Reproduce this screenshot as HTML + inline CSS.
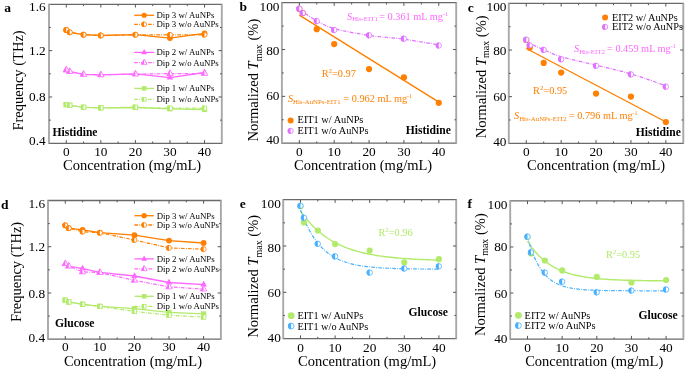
<!DOCTYPE html>
<html><head><meta charset="utf-8"><style>html,body{margin:0;padding:0;background:#fff;}svg{display:block;filter:blur(0.3px);}</style></head>
<body>
<svg width="685" height="370" viewBox="0 0 685 370" font-family='"Liberation Serif", serif'>
<rect width="685" height="370" fill="#fff"/>
<line x1="48.40" y1="4.30" x2="222.40" y2="4.30" stroke="#6a6a6a" stroke-width="1.3"/>
<line x1="48.40" y1="143.30" x2="222.40" y2="143.30" stroke="#6a6a6a" stroke-width="1.3"/>
<line x1="49.00" y1="4.30" x2="49.00" y2="143.30" stroke="#a8a8a8" stroke-width="1.9"/>
<line x1="221.80" y1="4.30" x2="221.80" y2="143.30" stroke="#a8a8a8" stroke-width="1.9"/>
<line x1="66.28" y1="143.30" x2="66.28" y2="140.10" stroke="#555" stroke-width="1"/>
<line x1="66.28" y1="4.30" x2="66.28" y2="7.50" stroke="#555" stroke-width="1"/>
<line x1="83.56" y1="143.30" x2="83.56" y2="141.50" stroke="#555" stroke-width="1"/>
<line x1="83.56" y1="4.30" x2="83.56" y2="6.10" stroke="#555" stroke-width="1"/>
<line x1="100.84" y1="143.30" x2="100.84" y2="140.10" stroke="#555" stroke-width="1"/>
<line x1="100.84" y1="4.30" x2="100.84" y2="7.50" stroke="#555" stroke-width="1"/>
<line x1="118.12" y1="143.30" x2="118.12" y2="141.50" stroke="#555" stroke-width="1"/>
<line x1="118.12" y1="4.30" x2="118.12" y2="6.10" stroke="#555" stroke-width="1"/>
<line x1="135.40" y1="143.30" x2="135.40" y2="140.10" stroke="#555" stroke-width="1"/>
<line x1="135.40" y1="4.30" x2="135.40" y2="7.50" stroke="#555" stroke-width="1"/>
<line x1="152.68" y1="143.30" x2="152.68" y2="141.50" stroke="#555" stroke-width="1"/>
<line x1="152.68" y1="4.30" x2="152.68" y2="6.10" stroke="#555" stroke-width="1"/>
<line x1="169.96" y1="143.30" x2="169.96" y2="140.10" stroke="#555" stroke-width="1"/>
<line x1="169.96" y1="4.30" x2="169.96" y2="7.50" stroke="#555" stroke-width="1"/>
<line x1="187.24" y1="143.30" x2="187.24" y2="141.50" stroke="#555" stroke-width="1"/>
<line x1="187.24" y1="4.30" x2="187.24" y2="6.10" stroke="#555" stroke-width="1"/>
<line x1="204.52" y1="143.30" x2="204.52" y2="140.10" stroke="#555" stroke-width="1"/>
<line x1="204.52" y1="4.30" x2="204.52" y2="7.50" stroke="#555" stroke-width="1"/>
<line x1="49.00" y1="120.13" x2="50.80" y2="120.13" stroke="#555" stroke-width="1"/>
<line x1="221.80" y1="120.13" x2="220.00" y2="120.13" stroke="#555" stroke-width="1"/>
<line x1="49.00" y1="96.97" x2="52.20" y2="96.97" stroke="#555" stroke-width="1"/>
<line x1="221.80" y1="96.97" x2="218.60" y2="96.97" stroke="#555" stroke-width="1"/>
<line x1="49.00" y1="73.80" x2="50.80" y2="73.80" stroke="#555" stroke-width="1"/>
<line x1="221.80" y1="73.80" x2="220.00" y2="73.80" stroke="#555" stroke-width="1"/>
<line x1="49.00" y1="50.63" x2="52.20" y2="50.63" stroke="#555" stroke-width="1"/>
<line x1="221.80" y1="50.63" x2="218.60" y2="50.63" stroke="#555" stroke-width="1"/>
<line x1="49.00" y1="27.47" x2="50.80" y2="27.47" stroke="#555" stroke-width="1"/>
<line x1="221.80" y1="27.47" x2="220.00" y2="27.47" stroke="#555" stroke-width="1"/>
<text x="45.70" y="10.60" text-anchor="end" font-size="13.3">1.6</text>
<text x="45.70" y="55.15" text-anchor="end" font-size="13.3">1.2</text>
<text x="45.70" y="101.30" text-anchor="end" font-size="13.3">0.8</text>
<text x="45.70" y="145.10" text-anchor="end" font-size="13.3">0.4</text>
<text x="66.28" y="155.70" text-anchor="middle" font-size="13.3">0</text>
<text x="100.84" y="155.70" text-anchor="middle" font-size="13.3">10</text>
<text x="135.40" y="155.70" text-anchor="middle" font-size="13.3">20</text>
<text x="169.96" y="155.70" text-anchor="middle" font-size="13.3">30</text>
<text x="204.52" y="155.70" text-anchor="middle" font-size="13.3">40</text>
<text x="4.30" y="12.20" font-size="13.5" font-weight="bold">a</text>
<text transform="translate(22.80,130.60) rotate(-90)" x="0" y="0" font-size="14.5">Frequency (THz)</text>
<text x="63.00" y="169.80" font-size="14.5">Concentration (mg/mL)</text>
<polyline points="66.28,30.00 69.74,32.30 83.56,34.70 100.84,35.50 135.40,34.60 169.96,38.10 204.52,33.40" fill="none" stroke="#ff7f00" stroke-width="1.3" stroke-linejoin="round"/>
<polyline points="66.28,30.00 69.74,32.30 83.56,34.70 100.84,35.50 135.40,34.80 169.96,34.80 204.52,34.80" fill="none" stroke="#ff7f00" stroke-width="1.2" stroke-dasharray="3.6 1.3 0.8 1.3" stroke-linejoin="round"/>
<circle cx="66.28" cy="30.00" r="2.9" fill="#ff7f00"/>
<circle cx="69.74" cy="32.30" r="2.9" fill="#ff7f00"/>
<circle cx="83.56" cy="34.70" r="2.9" fill="#ff7f00"/>
<circle cx="100.84" cy="35.50" r="2.9" fill="#ff7f00"/>
<circle cx="135.40" cy="34.60" r="2.9" fill="#ff7f00"/>
<circle cx="169.96" cy="38.10" r="2.9" fill="#ff7f00"/>
<circle cx="204.52" cy="33.40" r="2.9" fill="#ff7f00"/>
<circle cx="66.28" cy="30.00" r="2.5" fill="#fff" stroke="#ff7f00" stroke-width="0.8"/>
<path d="M66.28,27.10 A2.9,2.9 0 0 0 66.28,32.90 Z" fill="#ff7f00"/>
<circle cx="69.74" cy="32.30" r="2.5" fill="#fff" stroke="#ff7f00" stroke-width="0.8"/>
<path d="M69.74,29.40 A2.9,2.9 0 0 0 69.74,35.20 Z" fill="#ff7f00"/>
<circle cx="83.56" cy="34.70" r="2.5" fill="#fff" stroke="#ff7f00" stroke-width="0.8"/>
<path d="M83.56,31.80 A2.9,2.9 0 0 0 83.56,37.60 Z" fill="#ff7f00"/>
<circle cx="100.84" cy="35.50" r="2.5" fill="#fff" stroke="#ff7f00" stroke-width="0.8"/>
<path d="M100.84,32.60 A2.9,2.9 0 0 0 100.84,38.40 Z" fill="#ff7f00"/>
<circle cx="135.40" cy="34.80" r="2.5" fill="#fff" stroke="#ff7f00" stroke-width="0.8"/>
<path d="M135.40,31.90 A2.9,2.9 0 0 0 135.40,37.70 Z" fill="#ff7f00"/>
<circle cx="169.96" cy="34.80" r="2.5" fill="#fff" stroke="#ff7f00" stroke-width="0.8"/>
<path d="M169.96,31.90 A2.9,2.9 0 0 0 169.96,37.70 Z" fill="#ff7f00"/>
<circle cx="204.52" cy="34.80" r="2.5" fill="#fff" stroke="#ff7f00" stroke-width="0.8"/>
<path d="M204.52,31.90 A2.9,2.9 0 0 0 204.52,37.70 Z" fill="#ff7f00"/>
<polyline points="134.20,15.25 154.10,15.25" fill="none" stroke="#ff7f00" stroke-width="1.3" stroke-linejoin="round"/>
<circle cx="144.15" cy="15.25" r="2.6" fill="#ff7f00"/>
<text x="156.40" y="18.15" font-size="8.8">Dip 3 w/ AuNPs</text>
<polyline points="134.20,24.30 154.10,24.30" fill="none" stroke="#ff7f00" stroke-width="1.3" stroke-dasharray="3.6 1.3 0.8 1.3" stroke-linejoin="round"/>
<circle cx="144.15" cy="24.30" r="2.4" fill="#fff" stroke="#ff7f00" stroke-width="0.8"/>
<path d="M144.15,21.50 A2.8,2.8 0 0 0 144.15,27.10 Z" fill="#ff7f00"/>
<text x="156.40" y="27.20" font-size="8.8">Dip 3 w/o AuNPs</text>
<polyline points="66.28,70.10 69.74,71.60 83.56,74.40 100.84,74.90 135.40,73.90 169.96,77.70 204.52,72.50" fill="none" stroke="#ff66ff" stroke-width="1.3" stroke-linejoin="round"/>
<polyline points="66.28,70.10 69.74,71.60 83.56,74.40 100.84,74.90 135.40,74.10 169.96,73.60 204.52,73.50" fill="none" stroke="#ff66ff" stroke-width="1.2" stroke-dasharray="3.6 1.3 0.8 1.3" stroke-linejoin="round"/>
<path d="M63.08,72.02 L69.48,72.02 L66.28,66.26 Z" fill="#ff66ff"/>
<path d="M66.54,73.52 L72.94,73.52 L69.74,67.76 Z" fill="#ff66ff"/>
<path d="M80.36,76.32 L86.76,76.32 L83.56,70.56 Z" fill="#ff66ff"/>
<path d="M97.64,76.82 L104.04,76.82 L100.84,71.06 Z" fill="#ff66ff"/>
<path d="M132.20,75.82 L138.60,75.82 L135.40,70.06 Z" fill="#ff66ff"/>
<path d="M166.76,79.62 L173.16,79.62 L169.96,73.86 Z" fill="#ff66ff"/>
<path d="M201.32,74.42 L207.72,74.42 L204.52,68.66 Z" fill="#ff66ff"/>
<path d="M63.08,72.02 L69.48,72.02 L66.28,66.26 Z" fill="#fff" stroke="#ff66ff" stroke-width="0.8" stroke-linejoin="round"/>
<path d="M63.08,72.02 L66.28,72.02 L66.28,66.26 Z" fill="#ff66ff"/>
<path d="M66.54,73.52 L72.94,73.52 L69.74,67.76 Z" fill="#fff" stroke="#ff66ff" stroke-width="0.8" stroke-linejoin="round"/>
<path d="M66.54,73.52 L69.74,73.52 L69.74,67.76 Z" fill="#ff66ff"/>
<path d="M80.36,76.32 L86.76,76.32 L83.56,70.56 Z" fill="#fff" stroke="#ff66ff" stroke-width="0.8" stroke-linejoin="round"/>
<path d="M80.36,76.32 L83.56,76.32 L83.56,70.56 Z" fill="#ff66ff"/>
<path d="M97.64,76.82 L104.04,76.82 L100.84,71.06 Z" fill="#fff" stroke="#ff66ff" stroke-width="0.8" stroke-linejoin="round"/>
<path d="M97.64,76.82 L100.84,76.82 L100.84,71.06 Z" fill="#ff66ff"/>
<path d="M132.20,76.02 L138.60,76.02 L135.40,70.26 Z" fill="#fff" stroke="#ff66ff" stroke-width="0.8" stroke-linejoin="round"/>
<path d="M132.20,76.02 L135.40,76.02 L135.40,70.26 Z" fill="#ff66ff"/>
<path d="M166.76,75.52 L173.16,75.52 L169.96,69.76 Z" fill="#fff" stroke="#ff66ff" stroke-width="0.8" stroke-linejoin="round"/>
<path d="M166.76,75.52 L169.96,75.52 L169.96,69.76 Z" fill="#ff66ff"/>
<path d="M201.32,75.42 L207.72,75.42 L204.52,69.66 Z" fill="#fff" stroke="#ff66ff" stroke-width="0.8" stroke-linejoin="round"/>
<path d="M201.32,75.42 L204.52,75.42 L204.52,69.66 Z" fill="#ff66ff"/>
<polyline points="134.20,52.40 154.10,52.40" fill="none" stroke="#ff66ff" stroke-width="1.3" stroke-linejoin="round"/>
<path d="M141.25,54.14 L147.05,54.14 L144.15,48.92 Z" fill="#ff66ff"/>
<text x="156.40" y="55.30" font-size="8.8">Dip 2 w/ AuNPs</text>
<polyline points="134.20,62.60 154.10,62.60" fill="none" stroke="#ff66ff" stroke-width="1.3" stroke-dasharray="3.6 1.3 0.8 1.3" stroke-linejoin="round"/>
<path d="M141.25,64.34 L147.05,64.34 L144.15,59.12 Z" fill="#fff" stroke="#ff66ff" stroke-width="0.8" stroke-linejoin="round"/>
<path d="M141.25,64.34 L144.15,64.34 L144.15,59.12 Z" fill="#ff66ff"/>
<text x="156.40" y="65.50" font-size="8.8">Dip 2 w/o AuNPs</text>
<polyline points="66.28,104.60 69.74,105.30 83.56,107.30 100.84,107.80 135.40,107.50 169.96,108.80 204.52,109.50" fill="none" stroke="#b2ea6c" stroke-width="1.3" stroke-linejoin="round"/>
<polyline points="66.28,104.60 69.74,105.30 83.56,107.30 100.84,107.80 135.40,107.20 169.96,108.20 204.52,108.20" fill="none" stroke="#b2ea6c" stroke-width="1.2" stroke-dasharray="3.6 1.3 0.8 1.3" stroke-linejoin="round"/>
<rect x="63.68" y="102.00" width="5.2" height="5.2" fill="#b2ea6c"/>
<rect x="67.14" y="102.70" width="5.2" height="5.2" fill="#b2ea6c"/>
<rect x="80.96" y="104.70" width="5.2" height="5.2" fill="#b2ea6c"/>
<rect x="98.24" y="105.20" width="5.2" height="5.2" fill="#b2ea6c"/>
<rect x="132.80" y="104.90" width="5.2" height="5.2" fill="#b2ea6c"/>
<rect x="167.36" y="106.20" width="5.2" height="5.2" fill="#b2ea6c"/>
<rect x="201.92" y="106.90" width="5.2" height="5.2" fill="#b2ea6c"/>
<rect x="64.08" y="102.40" width="4.4" height="4.4" fill="#fff" stroke="#b2ea6c" stroke-width="0.8"/>
<rect x="63.68" y="102.00" width="2.6" height="5.2" fill="#b2ea6c"/>
<rect x="67.54" y="103.10" width="4.4" height="4.4" fill="#fff" stroke="#b2ea6c" stroke-width="0.8"/>
<rect x="67.14" y="102.70" width="2.6" height="5.2" fill="#b2ea6c"/>
<rect x="81.36" y="105.10" width="4.4" height="4.4" fill="#fff" stroke="#b2ea6c" stroke-width="0.8"/>
<rect x="80.96" y="104.70" width="2.6" height="5.2" fill="#b2ea6c"/>
<rect x="98.64" y="105.60" width="4.4" height="4.4" fill="#fff" stroke="#b2ea6c" stroke-width="0.8"/>
<rect x="98.24" y="105.20" width="2.6" height="5.2" fill="#b2ea6c"/>
<rect x="133.20" y="105.00" width="4.4" height="4.4" fill="#fff" stroke="#b2ea6c" stroke-width="0.8"/>
<rect x="132.80" y="104.60" width="2.6" height="5.2" fill="#b2ea6c"/>
<rect x="167.76" y="106.00" width="4.4" height="4.4" fill="#fff" stroke="#b2ea6c" stroke-width="0.8"/>
<rect x="167.36" y="105.60" width="2.6" height="5.2" fill="#b2ea6c"/>
<rect x="202.32" y="106.00" width="4.4" height="4.4" fill="#fff" stroke="#b2ea6c" stroke-width="0.8"/>
<rect x="201.92" y="105.60" width="2.6" height="5.2" fill="#b2ea6c"/>
<polyline points="134.20,88.40 154.10,88.40" fill="none" stroke="#b2ea6c" stroke-width="1.3" stroke-linejoin="round"/>
<rect x="141.85" y="86.10" width="4.6" height="4.6" fill="#b2ea6c"/>
<text x="156.40" y="91.30" font-size="8.8">Dip 1 w/ AuNPs</text>
<polyline points="134.20,99.30 154.10,99.30" fill="none" stroke="#b2ea6c" stroke-width="1.3" stroke-dasharray="3.6 1.3 0.8 1.3" stroke-linejoin="round"/>
<rect x="142.25" y="97.40" width="3.8" height="3.8" fill="#fff" stroke="#b2ea6c" stroke-width="0.8"/>
<rect x="141.85" y="97.00" width="2.3" height="4.6" fill="#b2ea6c"/>
<text x="156.40" y="102.20" font-size="8.8">Dip 1 w/o AuNPs</text>
<text x="52.40" y="135.60" font-size="11.6" font-weight="bold">Histidine</text>
<line x1="47.40" y1="200.50" x2="221.50" y2="200.50" stroke="#6a6a6a" stroke-width="1.3"/>
<line x1="47.40" y1="339.20" x2="221.50" y2="339.20" stroke="#6a6a6a" stroke-width="1.3"/>
<line x1="48.00" y1="200.50" x2="48.00" y2="339.20" stroke="#a8a8a8" stroke-width="1.9"/>
<line x1="220.90" y1="200.50" x2="220.90" y2="339.20" stroke="#a8a8a8" stroke-width="1.9"/>
<line x1="65.29" y1="339.20" x2="65.29" y2="336.00" stroke="#555" stroke-width="1"/>
<line x1="65.29" y1="200.50" x2="65.29" y2="203.70" stroke="#555" stroke-width="1"/>
<line x1="82.58" y1="339.20" x2="82.58" y2="337.40" stroke="#555" stroke-width="1"/>
<line x1="82.58" y1="200.50" x2="82.58" y2="202.30" stroke="#555" stroke-width="1"/>
<line x1="99.87" y1="339.20" x2="99.87" y2="336.00" stroke="#555" stroke-width="1"/>
<line x1="99.87" y1="200.50" x2="99.87" y2="203.70" stroke="#555" stroke-width="1"/>
<line x1="117.16" y1="339.20" x2="117.16" y2="337.40" stroke="#555" stroke-width="1"/>
<line x1="117.16" y1="200.50" x2="117.16" y2="202.30" stroke="#555" stroke-width="1"/>
<line x1="134.45" y1="339.20" x2="134.45" y2="336.00" stroke="#555" stroke-width="1"/>
<line x1="134.45" y1="200.50" x2="134.45" y2="203.70" stroke="#555" stroke-width="1"/>
<line x1="151.74" y1="339.20" x2="151.74" y2="337.40" stroke="#555" stroke-width="1"/>
<line x1="151.74" y1="200.50" x2="151.74" y2="202.30" stroke="#555" stroke-width="1"/>
<line x1="169.03" y1="339.20" x2="169.03" y2="336.00" stroke="#555" stroke-width="1"/>
<line x1="169.03" y1="200.50" x2="169.03" y2="203.70" stroke="#555" stroke-width="1"/>
<line x1="186.32" y1="339.20" x2="186.32" y2="337.40" stroke="#555" stroke-width="1"/>
<line x1="186.32" y1="200.50" x2="186.32" y2="202.30" stroke="#555" stroke-width="1"/>
<line x1="203.61" y1="339.20" x2="203.61" y2="336.00" stroke="#555" stroke-width="1"/>
<line x1="203.61" y1="200.50" x2="203.61" y2="203.70" stroke="#555" stroke-width="1"/>
<line x1="48.00" y1="316.08" x2="49.80" y2="316.08" stroke="#555" stroke-width="1"/>
<line x1="220.90" y1="316.08" x2="219.10" y2="316.08" stroke="#555" stroke-width="1"/>
<line x1="48.00" y1="292.97" x2="51.20" y2="292.97" stroke="#555" stroke-width="1"/>
<line x1="220.90" y1="292.97" x2="217.70" y2="292.97" stroke="#555" stroke-width="1"/>
<line x1="48.00" y1="269.85" x2="49.80" y2="269.85" stroke="#555" stroke-width="1"/>
<line x1="220.90" y1="269.85" x2="219.10" y2="269.85" stroke="#555" stroke-width="1"/>
<line x1="48.00" y1="246.73" x2="51.20" y2="246.73" stroke="#555" stroke-width="1"/>
<line x1="220.90" y1="246.73" x2="217.70" y2="246.73" stroke="#555" stroke-width="1"/>
<line x1="48.00" y1="223.62" x2="49.80" y2="223.62" stroke="#555" stroke-width="1"/>
<line x1="220.90" y1="223.62" x2="219.10" y2="223.62" stroke="#555" stroke-width="1"/>
<text x="45.10" y="207.90" text-anchor="end" font-size="13.3">1.6</text>
<text x="45.10" y="251.40" text-anchor="end" font-size="13.3">1.2</text>
<text x="45.10" y="297.70" text-anchor="end" font-size="13.3">0.8</text>
<text x="45.10" y="342.30" text-anchor="end" font-size="13.3">0.4</text>
<text x="65.29" y="351.40" text-anchor="middle" font-size="13.3">0</text>
<text x="99.87" y="351.40" text-anchor="middle" font-size="13.3">10</text>
<text x="134.45" y="351.40" text-anchor="middle" font-size="13.3">20</text>
<text x="169.03" y="351.40" text-anchor="middle" font-size="13.3">30</text>
<text x="203.61" y="351.40" text-anchor="middle" font-size="13.3">40</text>
<text x="1.00" y="208.60" font-size="13.5" font-weight="bold">d</text>
<text transform="translate(20.80,322.10) rotate(-90)" x="0" y="0" font-size="14.5">Frequency (THz)</text>
<text x="63.90" y="365.60" font-size="14.5">Concentration (mg/mL)</text>
<polyline points="65.29,225.30 68.75,228.20 82.58,229.80 99.87,232.60 134.45,235.20 169.03,240.60 203.61,243.00" fill="none" stroke="#ff7f00" stroke-width="1.3" stroke-linejoin="round"/>
<polyline points="65.29,225.30 68.75,228.20 82.58,231.70 99.87,232.80 134.45,240.00 169.03,247.90 203.61,249.20" fill="none" stroke="#ff7f00" stroke-width="1.2" stroke-dasharray="3.6 1.3 0.8 1.3" stroke-linejoin="round"/>
<circle cx="65.29" cy="225.30" r="2.9" fill="#ff7f00"/>
<circle cx="68.75" cy="228.20" r="2.9" fill="#ff7f00"/>
<circle cx="82.58" cy="229.80" r="2.9" fill="#ff7f00"/>
<circle cx="99.87" cy="232.60" r="2.9" fill="#ff7f00"/>
<circle cx="134.45" cy="235.20" r="2.9" fill="#ff7f00"/>
<circle cx="169.03" cy="240.60" r="2.9" fill="#ff7f00"/>
<circle cx="203.61" cy="243.00" r="2.9" fill="#ff7f00"/>
<circle cx="65.29" cy="225.30" r="2.5" fill="#fff" stroke="#ff7f00" stroke-width="0.8"/>
<path d="M65.29,222.40 A2.9,2.9 0 0 0 65.29,228.20 Z" fill="#ff7f00"/>
<circle cx="68.75" cy="228.20" r="2.5" fill="#fff" stroke="#ff7f00" stroke-width="0.8"/>
<path d="M68.75,225.30 A2.9,2.9 0 0 0 68.75,231.10 Z" fill="#ff7f00"/>
<circle cx="82.58" cy="231.70" r="2.5" fill="#fff" stroke="#ff7f00" stroke-width="0.8"/>
<path d="M82.58,228.80 A2.9,2.9 0 0 0 82.58,234.60 Z" fill="#ff7f00"/>
<circle cx="99.87" cy="232.80" r="2.5" fill="#fff" stroke="#ff7f00" stroke-width="0.8"/>
<path d="M99.87,229.90 A2.9,2.9 0 0 0 99.87,235.70 Z" fill="#ff7f00"/>
<circle cx="134.45" cy="240.00" r="2.5" fill="#fff" stroke="#ff7f00" stroke-width="0.8"/>
<path d="M134.45,237.10 A2.9,2.9 0 0 0 134.45,242.90 Z" fill="#ff7f00"/>
<circle cx="169.03" cy="247.90" r="2.5" fill="#fff" stroke="#ff7f00" stroke-width="0.8"/>
<path d="M169.03,245.00 A2.9,2.9 0 0 0 169.03,250.80 Z" fill="#ff7f00"/>
<circle cx="203.61" cy="249.20" r="2.5" fill="#fff" stroke="#ff7f00" stroke-width="0.8"/>
<path d="M203.61,246.30 A2.9,2.9 0 0 0 203.61,252.10 Z" fill="#ff7f00"/>
<polyline points="134.50,215.70 153.80,215.70" fill="none" stroke="#ff7f00" stroke-width="1.3" stroke-linejoin="round"/>
<circle cx="144.15" cy="215.70" r="2.6" fill="#ff7f00"/>
<text x="156.70" y="218.60" font-size="8.8">Dip 3 w/ AuNPs</text>
<polyline points="134.50,225.00 153.80,225.00" fill="none" stroke="#ff7f00" stroke-width="1.3" stroke-dasharray="3.6 1.3 0.8 1.3" stroke-linejoin="round"/>
<circle cx="144.15" cy="225.00" r="2.4" fill="#fff" stroke="#ff7f00" stroke-width="0.8"/>
<path d="M144.15,222.20 A2.8,2.8 0 0 0 144.15,227.80 Z" fill="#ff7f00"/>
<text x="156.70" y="227.90" font-size="8.8">Dip 3 w/o AuNPs</text>
<polyline points="65.29,263.80 68.75,266.20 82.58,268.60 99.87,272.40 134.45,276.00 169.03,282.50 203.61,284.60" fill="none" stroke="#ff66ff" stroke-width="1.3" stroke-linejoin="round"/>
<polyline points="65.29,263.80 68.75,266.20 82.58,271.90 99.87,272.60 134.45,280.30 169.03,286.90 203.61,289.10" fill="none" stroke="#ff66ff" stroke-width="1.2" stroke-dasharray="3.6 1.3 0.8 1.3" stroke-linejoin="round"/>
<path d="M62.09,265.72 L68.49,265.72 L65.29,259.96 Z" fill="#ff66ff"/>
<path d="M65.55,268.12 L71.95,268.12 L68.75,262.36 Z" fill="#ff66ff"/>
<path d="M79.38,270.52 L85.78,270.52 L82.58,264.76 Z" fill="#ff66ff"/>
<path d="M96.67,274.32 L103.07,274.32 L99.87,268.56 Z" fill="#ff66ff"/>
<path d="M131.25,277.92 L137.65,277.92 L134.45,272.16 Z" fill="#ff66ff"/>
<path d="M165.83,284.42 L172.23,284.42 L169.03,278.66 Z" fill="#ff66ff"/>
<path d="M200.41,286.52 L206.81,286.52 L203.61,280.76 Z" fill="#ff66ff"/>
<path d="M62.09,265.72 L68.49,265.72 L65.29,259.96 Z" fill="#fff" stroke="#ff66ff" stroke-width="0.8" stroke-linejoin="round"/>
<path d="M62.09,265.72 L65.29,265.72 L65.29,259.96 Z" fill="#ff66ff"/>
<path d="M65.55,268.12 L71.95,268.12 L68.75,262.36 Z" fill="#fff" stroke="#ff66ff" stroke-width="0.8" stroke-linejoin="round"/>
<path d="M65.55,268.12 L68.75,268.12 L68.75,262.36 Z" fill="#ff66ff"/>
<path d="M79.38,273.82 L85.78,273.82 L82.58,268.06 Z" fill="#fff" stroke="#ff66ff" stroke-width="0.8" stroke-linejoin="round"/>
<path d="M79.38,273.82 L82.58,273.82 L82.58,268.06 Z" fill="#ff66ff"/>
<path d="M96.67,274.52 L103.07,274.52 L99.87,268.76 Z" fill="#fff" stroke="#ff66ff" stroke-width="0.8" stroke-linejoin="round"/>
<path d="M96.67,274.52 L99.87,274.52 L99.87,268.76 Z" fill="#ff66ff"/>
<path d="M131.25,282.22 L137.65,282.22 L134.45,276.46 Z" fill="#fff" stroke="#ff66ff" stroke-width="0.8" stroke-linejoin="round"/>
<path d="M131.25,282.22 L134.45,282.22 L134.45,276.46 Z" fill="#ff66ff"/>
<path d="M165.83,288.82 L172.23,288.82 L169.03,283.06 Z" fill="#fff" stroke="#ff66ff" stroke-width="0.8" stroke-linejoin="round"/>
<path d="M165.83,288.82 L169.03,288.82 L169.03,283.06 Z" fill="#ff66ff"/>
<path d="M200.41,291.02 L206.81,291.02 L203.61,285.26 Z" fill="#fff" stroke="#ff66ff" stroke-width="0.8" stroke-linejoin="round"/>
<path d="M200.41,291.02 L203.61,291.02 L203.61,285.26 Z" fill="#ff66ff"/>
<polyline points="134.50,258.90 153.80,258.90" fill="none" stroke="#ff66ff" stroke-width="1.3" stroke-linejoin="round"/>
<path d="M141.25,260.64 L147.05,260.64 L144.15,255.42 Z" fill="#ff66ff"/>
<text x="156.70" y="261.80" font-size="8.8">Dip 2 w/ AuNPs</text>
<polyline points="134.50,268.90 153.80,268.90" fill="none" stroke="#ff66ff" stroke-width="1.3" stroke-dasharray="3.6 1.3 0.8 1.3" stroke-linejoin="round"/>
<path d="M141.25,270.64 L147.05,270.64 L144.15,265.42 Z" fill="#fff" stroke="#ff66ff" stroke-width="0.8" stroke-linejoin="round"/>
<path d="M141.25,270.64 L144.15,270.64 L144.15,265.42 Z" fill="#ff66ff"/>
<text x="156.70" y="271.80" font-size="8.8">Dip 2 w/o AuNPs</text>
<polyline points="65.29,300.20 68.75,301.90 82.58,304.30 99.87,306.40 134.45,308.60 169.03,312.40 203.61,313.90" fill="none" stroke="#b2ea6c" stroke-width="1.3" stroke-linejoin="round"/>
<polyline points="65.29,300.20 68.75,301.90 82.58,304.30 99.87,306.40 134.45,311.40 169.03,315.20 203.61,317.10" fill="none" stroke="#b2ea6c" stroke-width="1.2" stroke-dasharray="3.6 1.3 0.8 1.3" stroke-linejoin="round"/>
<rect x="62.69" y="297.60" width="5.2" height="5.2" fill="#b2ea6c"/>
<rect x="66.15" y="299.30" width="5.2" height="5.2" fill="#b2ea6c"/>
<rect x="79.98" y="301.70" width="5.2" height="5.2" fill="#b2ea6c"/>
<rect x="97.27" y="303.80" width="5.2" height="5.2" fill="#b2ea6c"/>
<rect x="131.85" y="306.00" width="5.2" height="5.2" fill="#b2ea6c"/>
<rect x="166.43" y="309.80" width="5.2" height="5.2" fill="#b2ea6c"/>
<rect x="201.01" y="311.30" width="5.2" height="5.2" fill="#b2ea6c"/>
<rect x="63.09" y="298.00" width="4.4" height="4.4" fill="#fff" stroke="#b2ea6c" stroke-width="0.8"/>
<rect x="62.69" y="297.60" width="2.6" height="5.2" fill="#b2ea6c"/>
<rect x="66.55" y="299.70" width="4.4" height="4.4" fill="#fff" stroke="#b2ea6c" stroke-width="0.8"/>
<rect x="66.15" y="299.30" width="2.6" height="5.2" fill="#b2ea6c"/>
<rect x="80.38" y="302.10" width="4.4" height="4.4" fill="#fff" stroke="#b2ea6c" stroke-width="0.8"/>
<rect x="79.98" y="301.70" width="2.6" height="5.2" fill="#b2ea6c"/>
<rect x="97.67" y="304.20" width="4.4" height="4.4" fill="#fff" stroke="#b2ea6c" stroke-width="0.8"/>
<rect x="97.27" y="303.80" width="2.6" height="5.2" fill="#b2ea6c"/>
<rect x="132.25" y="309.20" width="4.4" height="4.4" fill="#fff" stroke="#b2ea6c" stroke-width="0.8"/>
<rect x="131.85" y="308.80" width="2.6" height="5.2" fill="#b2ea6c"/>
<rect x="166.83" y="313.00" width="4.4" height="4.4" fill="#fff" stroke="#b2ea6c" stroke-width="0.8"/>
<rect x="166.43" y="312.60" width="2.6" height="5.2" fill="#b2ea6c"/>
<rect x="201.41" y="314.90" width="4.4" height="4.4" fill="#fff" stroke="#b2ea6c" stroke-width="0.8"/>
<rect x="201.01" y="314.50" width="2.6" height="5.2" fill="#b2ea6c"/>
<polyline points="134.50,296.30 153.80,296.30" fill="none" stroke="#b2ea6c" stroke-width="1.3" stroke-linejoin="round"/>
<rect x="141.85" y="294.00" width="4.6" height="4.6" fill="#b2ea6c"/>
<text x="156.70" y="299.20" font-size="8.8">Dip 1 w/ AuNPs</text>
<polyline points="134.50,306.30 153.80,306.30" fill="none" stroke="#b2ea6c" stroke-width="1.3" stroke-dasharray="3.6 1.3 0.8 1.3" stroke-linejoin="round"/>
<rect x="142.25" y="304.40" width="3.8" height="3.8" fill="#fff" stroke="#b2ea6c" stroke-width="0.8"/>
<rect x="141.85" y="304.00" width="2.3" height="4.6" fill="#b2ea6c"/>
<text x="156.70" y="309.20" font-size="8.8">Dip 1 w/o AuNPs</text>
<text x="55.00" y="327.40" font-size="11.6" font-weight="bold">Glucose</text>
<line x1="281.30" y1="2.70" x2="456.80" y2="2.70" stroke="#6a6a6a" stroke-width="1.3"/>
<line x1="281.30" y1="143.20" x2="456.80" y2="143.20" stroke="#6a6a6a" stroke-width="1.3"/>
<line x1="281.90" y1="2.70" x2="281.90" y2="143.20" stroke="#a8a8a8" stroke-width="1.9"/>
<line x1="456.20" y1="2.70" x2="456.20" y2="143.20" stroke="#a8a8a8" stroke-width="1.9"/>
<line x1="299.33" y1="143.20" x2="299.33" y2="140.00" stroke="#555" stroke-width="1"/>
<line x1="299.33" y1="2.70" x2="299.33" y2="5.90" stroke="#555" stroke-width="1"/>
<line x1="316.76" y1="143.20" x2="316.76" y2="141.40" stroke="#555" stroke-width="1"/>
<line x1="316.76" y1="2.70" x2="316.76" y2="4.50" stroke="#555" stroke-width="1"/>
<line x1="334.19" y1="143.20" x2="334.19" y2="140.00" stroke="#555" stroke-width="1"/>
<line x1="334.19" y1="2.70" x2="334.19" y2="5.90" stroke="#555" stroke-width="1"/>
<line x1="351.62" y1="143.20" x2="351.62" y2="141.40" stroke="#555" stroke-width="1"/>
<line x1="351.62" y1="2.70" x2="351.62" y2="4.50" stroke="#555" stroke-width="1"/>
<line x1="369.05" y1="143.20" x2="369.05" y2="140.00" stroke="#555" stroke-width="1"/>
<line x1="369.05" y1="2.70" x2="369.05" y2="5.90" stroke="#555" stroke-width="1"/>
<line x1="386.48" y1="143.20" x2="386.48" y2="141.40" stroke="#555" stroke-width="1"/>
<line x1="386.48" y1="2.70" x2="386.48" y2="4.50" stroke="#555" stroke-width="1"/>
<line x1="403.91" y1="143.20" x2="403.91" y2="140.00" stroke="#555" stroke-width="1"/>
<line x1="403.91" y1="2.70" x2="403.91" y2="5.90" stroke="#555" stroke-width="1"/>
<line x1="421.34" y1="143.20" x2="421.34" y2="141.40" stroke="#555" stroke-width="1"/>
<line x1="421.34" y1="2.70" x2="421.34" y2="4.50" stroke="#555" stroke-width="1"/>
<line x1="438.77" y1="143.20" x2="438.77" y2="140.00" stroke="#555" stroke-width="1"/>
<line x1="438.77" y1="2.70" x2="438.77" y2="5.90" stroke="#555" stroke-width="1"/>
<line x1="281.90" y1="119.78" x2="283.70" y2="119.78" stroke="#555" stroke-width="1"/>
<line x1="456.20" y1="119.78" x2="454.40" y2="119.78" stroke="#555" stroke-width="1"/>
<line x1="281.90" y1="96.37" x2="285.10" y2="96.37" stroke="#555" stroke-width="1"/>
<line x1="456.20" y1="96.37" x2="453.00" y2="96.37" stroke="#555" stroke-width="1"/>
<line x1="281.90" y1="72.95" x2="283.70" y2="72.95" stroke="#555" stroke-width="1"/>
<line x1="456.20" y1="72.95" x2="454.40" y2="72.95" stroke="#555" stroke-width="1"/>
<line x1="281.90" y1="49.53" x2="285.10" y2="49.53" stroke="#555" stroke-width="1"/>
<line x1="456.20" y1="49.53" x2="453.00" y2="49.53" stroke="#555" stroke-width="1"/>
<line x1="281.90" y1="26.12" x2="283.70" y2="26.12" stroke="#555" stroke-width="1"/>
<line x1="456.20" y1="26.12" x2="454.40" y2="26.12" stroke="#555" stroke-width="1"/>
<text x="279.50" y="10.50" text-anchor="end" font-size="13.3">100</text>
<text x="279.50" y="54.90" text-anchor="end" font-size="13.3">80</text>
<text x="279.50" y="100.40" text-anchor="end" font-size="13.3">60</text>
<text x="279.50" y="143.90" text-anchor="end" font-size="13.3">40</text>
<text x="299.33" y="155.50" text-anchor="middle" font-size="13.3">0</text>
<text x="334.19" y="155.50" text-anchor="middle" font-size="13.3">10</text>
<text x="369.05" y="155.50" text-anchor="middle" font-size="13.3">20</text>
<text x="403.91" y="155.50" text-anchor="middle" font-size="13.3">30</text>
<text x="438.77" y="155.50" text-anchor="middle" font-size="13.3">40</text>
<text x="239.60" y="11.40" font-size="13.5" font-weight="bold">b</text>
<text transform="translate(258.00,141.50) rotate(-90)" x="0" y="0" font-size="14.5">Normalized <tspan font-style="italic">T</tspan><tspan font-size="10" dy="3.6">max</tspan><tspan dy="-3.6"> (%)</tspan></text>
<text x="294.00" y="169.70" font-size="14.5">Concentration (mg/mL)</text>
<polyline points="299.30,15.10 438.90,102.20" fill="none" stroke="#ff7f00" stroke-width="1.4" stroke-linejoin="round"/>
<path d="M299.33,9.50 C302.24,11.38 310.95,17.62 316.76,20.80 C322.57,23.98 325.48,26.17 334.19,28.60 C342.90,31.03 357.43,33.63 369.05,35.40 C380.67,37.17 392.29,37.60 403.91,39.20 C415.53,40.80 432.96,44.03 438.77,45.00" fill="none" stroke="#e070ff" stroke-width="1.2" stroke-dasharray="3.6 1.3 0.8 1.3"/>
<circle cx="299.33" cy="9.00" r="3.1" fill="#ff7f00"/>
<circle cx="302.82" cy="13.00" r="3.1" fill="#ff7f00"/>
<circle cx="316.76" cy="29.20" r="3.1" fill="#ff7f00"/>
<circle cx="334.19" cy="44.10" r="3.1" fill="#ff7f00"/>
<circle cx="369.05" cy="69.10" r="3.1" fill="#ff7f00"/>
<circle cx="403.91" cy="77.40" r="3.1" fill="#ff7f00"/>
<circle cx="438.77" cy="102.80" r="3.1" fill="#ff7f00"/>
<circle cx="299.33" cy="8.60" r="2.7" fill="#fff" stroke="#e070ff" stroke-width="0.8"/>
<path d="M299.33,5.50 A3.1,3.1 0 0 0 299.33,11.70 Z" fill="#e070ff"/>
<circle cx="302.82" cy="13.00" r="2.7" fill="#fff" stroke="#e070ff" stroke-width="0.8"/>
<path d="M302.82,9.90 A3.1,3.1 0 0 0 302.82,16.10 Z" fill="#e070ff"/>
<circle cx="316.76" cy="21.10" r="2.7" fill="#fff" stroke="#e070ff" stroke-width="0.8"/>
<path d="M316.76,18.00 A3.1,3.1 0 0 0 316.76,24.20 Z" fill="#e070ff"/>
<circle cx="334.19" cy="30.00" r="2.7" fill="#fff" stroke="#e070ff" stroke-width="0.8"/>
<path d="M334.19,26.90 A3.1,3.1 0 0 0 334.19,33.10 Z" fill="#e070ff"/>
<circle cx="369.05" cy="35.30" r="2.7" fill="#fff" stroke="#e070ff" stroke-width="0.8"/>
<path d="M369.05,32.20 A3.1,3.1 0 0 0 369.05,38.40 Z" fill="#e070ff"/>
<circle cx="403.91" cy="38.70" r="2.7" fill="#fff" stroke="#e070ff" stroke-width="0.8"/>
<path d="M403.91,35.60 A3.1,3.1 0 0 0 403.91,41.80 Z" fill="#e070ff"/>
<circle cx="438.77" cy="45.50" r="2.7" fill="#fff" stroke="#e070ff" stroke-width="0.8"/>
<path d="M438.77,42.40 A3.1,3.1 0 0 0 438.77,48.60 Z" fill="#e070ff"/>
<text x="347.00" y="19.90" font-size="10.3" fill="#ff66ff"><tspan font-style="italic">S</tspan><tspan font-size="6.8" dy="1.5">His-EIT1</tspan><tspan x="379.20" dy="-1.5">= 0.361 mL mg</tspan><tspan font-size="6" dy="-4">-1</tspan></text>
<text x="321.70" y="76.60" font-size="10.3" fill="#ff7f00">R<tspan font-size="7" dy="-4">2</tspan><tspan dy="4">=0.97</tspan></text>
<text x="287.90" y="102.00" font-size="10.3" fill="#ff7f00"><tspan font-style="italic">S</tspan><tspan font-size="6.8" dy="1.5">His-AuNPs-EIT1</tspan><tspan x="343.30" dy="-1.5">= 0.962 mL mg</tspan><tspan font-size="6" dy="-4">-1</tspan></text>
<circle cx="290.60" cy="120.50" r="3.0" fill="#ff7f00"/>
<text x="297.60" y="123.30" font-size="10.3">EIT1 w/ AuNPs</text>
<circle cx="290.60" cy="130.90" r="2.6" fill="#fff" stroke="#e070ff" stroke-width="0.8"/>
<path d="M290.60,127.90 A3.0,3.0 0 0 0 290.60,133.90 Z" fill="#e070ff"/>
<text x="297.60" y="133.90" font-size="10.3">EIT1 w/o AuNPs</text>
<text x="405.70" y="134.20" font-size="11.6" font-weight="bold">Histidine</text>
<line x1="508.20" y1="3.40" x2="683.90" y2="3.40" stroke="#6a6a6a" stroke-width="1.3"/>
<line x1="508.20" y1="143.30" x2="683.90" y2="143.30" stroke="#6a6a6a" stroke-width="1.3"/>
<line x1="508.80" y1="3.40" x2="508.80" y2="143.30" stroke="#a8a8a8" stroke-width="1.9"/>
<line x1="683.30" y1="3.40" x2="683.30" y2="143.30" stroke="#a8a8a8" stroke-width="1.9"/>
<line x1="526.25" y1="143.30" x2="526.25" y2="140.10" stroke="#555" stroke-width="1"/>
<line x1="526.25" y1="3.40" x2="526.25" y2="6.60" stroke="#555" stroke-width="1"/>
<line x1="543.70" y1="143.30" x2="543.70" y2="141.50" stroke="#555" stroke-width="1"/>
<line x1="543.70" y1="3.40" x2="543.70" y2="5.20" stroke="#555" stroke-width="1"/>
<line x1="561.15" y1="143.30" x2="561.15" y2="140.10" stroke="#555" stroke-width="1"/>
<line x1="561.15" y1="3.40" x2="561.15" y2="6.60" stroke="#555" stroke-width="1"/>
<line x1="578.60" y1="143.30" x2="578.60" y2="141.50" stroke="#555" stroke-width="1"/>
<line x1="578.60" y1="3.40" x2="578.60" y2="5.20" stroke="#555" stroke-width="1"/>
<line x1="596.05" y1="143.30" x2="596.05" y2="140.10" stroke="#555" stroke-width="1"/>
<line x1="596.05" y1="3.40" x2="596.05" y2="6.60" stroke="#555" stroke-width="1"/>
<line x1="613.50" y1="143.30" x2="613.50" y2="141.50" stroke="#555" stroke-width="1"/>
<line x1="613.50" y1="3.40" x2="613.50" y2="5.20" stroke="#555" stroke-width="1"/>
<line x1="630.95" y1="143.30" x2="630.95" y2="140.10" stroke="#555" stroke-width="1"/>
<line x1="630.95" y1="3.40" x2="630.95" y2="6.60" stroke="#555" stroke-width="1"/>
<line x1="648.40" y1="143.30" x2="648.40" y2="141.50" stroke="#555" stroke-width="1"/>
<line x1="648.40" y1="3.40" x2="648.40" y2="5.20" stroke="#555" stroke-width="1"/>
<line x1="665.85" y1="143.30" x2="665.85" y2="140.10" stroke="#555" stroke-width="1"/>
<line x1="665.85" y1="3.40" x2="665.85" y2="6.60" stroke="#555" stroke-width="1"/>
<line x1="508.80" y1="119.98" x2="510.60" y2="119.98" stroke="#555" stroke-width="1"/>
<line x1="683.30" y1="119.98" x2="681.50" y2="119.98" stroke="#555" stroke-width="1"/>
<line x1="508.80" y1="96.67" x2="512.00" y2="96.67" stroke="#555" stroke-width="1"/>
<line x1="683.30" y1="96.67" x2="680.10" y2="96.67" stroke="#555" stroke-width="1"/>
<line x1="508.80" y1="73.35" x2="510.60" y2="73.35" stroke="#555" stroke-width="1"/>
<line x1="683.30" y1="73.35" x2="681.50" y2="73.35" stroke="#555" stroke-width="1"/>
<line x1="508.80" y1="50.03" x2="512.00" y2="50.03" stroke="#555" stroke-width="1"/>
<line x1="683.30" y1="50.03" x2="680.10" y2="50.03" stroke="#555" stroke-width="1"/>
<line x1="508.80" y1="26.72" x2="510.60" y2="26.72" stroke="#555" stroke-width="1"/>
<line x1="683.30" y1="26.72" x2="681.50" y2="26.72" stroke="#555" stroke-width="1"/>
<text x="506.50" y="10.90" text-anchor="end" font-size="13.3">100</text>
<text x="506.50" y="54.50" text-anchor="end" font-size="13.3">80</text>
<text x="506.50" y="101.00" text-anchor="end" font-size="13.3">60</text>
<text x="506.50" y="146.20" text-anchor="end" font-size="13.3">40</text>
<text x="526.25" y="155.50" text-anchor="middle" font-size="13.3">0</text>
<text x="561.15" y="155.50" text-anchor="middle" font-size="13.3">10</text>
<text x="596.05" y="155.50" text-anchor="middle" font-size="13.3">20</text>
<text x="630.95" y="155.50" text-anchor="middle" font-size="13.3">30</text>
<text x="665.85" y="155.50" text-anchor="middle" font-size="13.3">40</text>
<text x="467.80" y="11.70" font-size="13.5" font-weight="bold">c</text>
<text transform="translate(485.60,138.20) rotate(-90)" x="0" y="0" font-size="14.5">Normalized <tspan font-style="italic">T</tspan><tspan font-size="10" dy="3.6">max</tspan><tspan dy="-3.6"> (%)</tspan></text>
<text x="527.00" y="169.70" font-size="14.5">Concentration (mg/mL)</text>
<polyline points="526.30,48.50 666.00,122.00" fill="none" stroke="#ff7f00" stroke-width="1.4" stroke-linejoin="round"/>
<path d="M526.25,42.00 C529.16,43.28 537.88,47.25 543.70,49.70 C549.52,52.15 552.42,54.12 561.15,56.70 C569.88,59.28 584.42,62.33 596.05,65.20 C607.68,68.07 619.32,70.47 630.95,73.90 C642.58,77.33 660.03,83.82 665.85,85.80" fill="none" stroke="#e070ff" stroke-width="1.2" stroke-dasharray="3.6 1.3 0.8 1.3"/>
<circle cx="526.25" cy="40.00" r="3.1" fill="#ff7f00"/>
<circle cx="529.74" cy="47.80" r="3.1" fill="#ff7f00"/>
<circle cx="543.70" cy="62.90" r="3.1" fill="#ff7f00"/>
<circle cx="561.15" cy="72.60" r="3.1" fill="#ff7f00"/>
<circle cx="596.05" cy="93.60" r="3.1" fill="#ff7f00"/>
<circle cx="630.95" cy="96.60" r="3.1" fill="#ff7f00"/>
<circle cx="665.85" cy="122.00" r="3.1" fill="#ff7f00"/>
<circle cx="526.25" cy="39.70" r="2.7" fill="#fff" stroke="#e070ff" stroke-width="0.8"/>
<path d="M526.25,36.60 A3.1,3.1 0 0 0 526.25,42.80 Z" fill="#e070ff"/>
<circle cx="529.74" cy="45.30" r="2.7" fill="#fff" stroke="#e070ff" stroke-width="0.8"/>
<path d="M529.74,42.20 A3.1,3.1 0 0 0 529.74,48.40 Z" fill="#e070ff"/>
<circle cx="543.70" cy="49.90" r="2.7" fill="#fff" stroke="#e070ff" stroke-width="0.8"/>
<path d="M543.70,46.80 A3.1,3.1 0 0 0 543.70,53.00 Z" fill="#e070ff"/>
<circle cx="561.15" cy="59.30" r="2.7" fill="#fff" stroke="#e070ff" stroke-width="0.8"/>
<path d="M561.15,56.20 A3.1,3.1 0 0 0 561.15,62.40 Z" fill="#e070ff"/>
<circle cx="596.05" cy="65.80" r="2.7" fill="#fff" stroke="#e070ff" stroke-width="0.8"/>
<path d="M596.05,62.70 A3.1,3.1 0 0 0 596.05,68.90 Z" fill="#e070ff"/>
<circle cx="630.95" cy="74.40" r="2.7" fill="#fff" stroke="#e070ff" stroke-width="0.8"/>
<path d="M630.95,71.30 A3.1,3.1 0 0 0 630.95,77.50 Z" fill="#e070ff"/>
<circle cx="665.85" cy="86.70" r="2.7" fill="#fff" stroke="#e070ff" stroke-width="0.8"/>
<path d="M665.85,83.60 A3.1,3.1 0 0 0 665.85,89.80 Z" fill="#e070ff"/>
<circle cx="605.10" cy="17.40" r="3.0" fill="#ff7f00"/>
<text x="612.00" y="20.60" font-size="10.3">EIT2 w/ AuNPs</text>
<circle cx="605.10" cy="26.90" r="2.6" fill="#fff" stroke="#e070ff" stroke-width="0.8"/>
<path d="M605.10,23.90 A3.0,3.0 0 0 0 605.10,29.90 Z" fill="#e070ff"/>
<text x="612.00" y="30.20" font-size="10.3">EIT2 w/o AuNPs</text>
<text x="574.00" y="52.40" font-size="10.3" fill="#ff66ff"><tspan font-style="italic">S</tspan><tspan font-size="6.8" dy="1.5">His-EIT2</tspan><tspan x="607.00" dy="-1.5">= 0.459 mL mg</tspan><tspan font-size="6" dy="-4">-1</tspan></text>
<text x="533.00" y="94.00" font-size="10.3" fill="#ff7f00">R<tspan font-size="7" dy="-4">2</tspan><tspan dy="4">=0.95</tspan></text>
<text x="514.00" y="119.00" font-size="10.3" fill="#ff7f00"><tspan font-style="italic">S</tspan><tspan font-size="6.8" dy="1.5">His-AuNPs-EIT2</tspan><tspan x="568.80" dy="-1.5">= 0.796 mL mg</tspan><tspan font-size="6" dy="-4">-1</tspan></text>
<text x="635.70" y="135.80" font-size="11.6" font-weight="bold">Histidine</text>
<line x1="282.60" y1="199.70" x2="456.80" y2="199.70" stroke="#6a6a6a" stroke-width="1.3"/>
<line x1="282.60" y1="338.60" x2="456.80" y2="338.60" stroke="#6a6a6a" stroke-width="1.3"/>
<line x1="283.20" y1="199.70" x2="283.20" y2="338.60" stroke="#a8a8a8" stroke-width="1.9"/>
<line x1="456.20" y1="199.70" x2="456.20" y2="338.60" stroke="#a8a8a8" stroke-width="1.9"/>
<line x1="300.50" y1="338.60" x2="300.50" y2="335.40" stroke="#555" stroke-width="1"/>
<line x1="300.50" y1="199.70" x2="300.50" y2="202.90" stroke="#555" stroke-width="1"/>
<line x1="317.80" y1="338.60" x2="317.80" y2="336.80" stroke="#555" stroke-width="1"/>
<line x1="317.80" y1="199.70" x2="317.80" y2="201.50" stroke="#555" stroke-width="1"/>
<line x1="335.10" y1="338.60" x2="335.10" y2="335.40" stroke="#555" stroke-width="1"/>
<line x1="335.10" y1="199.70" x2="335.10" y2="202.90" stroke="#555" stroke-width="1"/>
<line x1="352.40" y1="338.60" x2="352.40" y2="336.80" stroke="#555" stroke-width="1"/>
<line x1="352.40" y1="199.70" x2="352.40" y2="201.50" stroke="#555" stroke-width="1"/>
<line x1="369.70" y1="338.60" x2="369.70" y2="335.40" stroke="#555" stroke-width="1"/>
<line x1="369.70" y1="199.70" x2="369.70" y2="202.90" stroke="#555" stroke-width="1"/>
<line x1="387.00" y1="338.60" x2="387.00" y2="336.80" stroke="#555" stroke-width="1"/>
<line x1="387.00" y1="199.70" x2="387.00" y2="201.50" stroke="#555" stroke-width="1"/>
<line x1="404.30" y1="338.60" x2="404.30" y2="335.40" stroke="#555" stroke-width="1"/>
<line x1="404.30" y1="199.70" x2="404.30" y2="202.90" stroke="#555" stroke-width="1"/>
<line x1="421.60" y1="338.60" x2="421.60" y2="336.80" stroke="#555" stroke-width="1"/>
<line x1="421.60" y1="199.70" x2="421.60" y2="201.50" stroke="#555" stroke-width="1"/>
<line x1="438.90" y1="338.60" x2="438.90" y2="335.40" stroke="#555" stroke-width="1"/>
<line x1="438.90" y1="199.70" x2="438.90" y2="202.90" stroke="#555" stroke-width="1"/>
<line x1="283.20" y1="315.45" x2="285.00" y2="315.45" stroke="#555" stroke-width="1"/>
<line x1="456.20" y1="315.45" x2="454.40" y2="315.45" stroke="#555" stroke-width="1"/>
<line x1="283.20" y1="292.30" x2="286.40" y2="292.30" stroke="#555" stroke-width="1"/>
<line x1="456.20" y1="292.30" x2="453.00" y2="292.30" stroke="#555" stroke-width="1"/>
<line x1="283.20" y1="269.15" x2="285.00" y2="269.15" stroke="#555" stroke-width="1"/>
<line x1="456.20" y1="269.15" x2="454.40" y2="269.15" stroke="#555" stroke-width="1"/>
<line x1="283.20" y1="246.00" x2="286.40" y2="246.00" stroke="#555" stroke-width="1"/>
<line x1="456.20" y1="246.00" x2="453.00" y2="246.00" stroke="#555" stroke-width="1"/>
<line x1="283.20" y1="222.85" x2="285.00" y2="222.85" stroke="#555" stroke-width="1"/>
<line x1="456.20" y1="222.85" x2="454.40" y2="222.85" stroke="#555" stroke-width="1"/>
<text x="280.80" y="207.70" text-anchor="end" font-size="13.3">100</text>
<text x="280.80" y="251.90" text-anchor="end" font-size="13.3">80</text>
<text x="280.80" y="297.40" text-anchor="end" font-size="13.3">60</text>
<text x="280.80" y="342.40" text-anchor="end" font-size="13.3">40</text>
<text x="300.50" y="351.50" text-anchor="middle" font-size="13.3">0</text>
<text x="335.10" y="351.50" text-anchor="middle" font-size="13.3">10</text>
<text x="369.70" y="351.50" text-anchor="middle" font-size="13.3">20</text>
<text x="404.30" y="351.50" text-anchor="middle" font-size="13.3">30</text>
<text x="438.90" y="351.50" text-anchor="middle" font-size="13.3">40</text>
<text x="239.80" y="208.20" font-size="13.5" font-weight="bold">e</text>
<text transform="translate(258.20,337.70) rotate(-90)" x="0" y="0" font-size="14.5">Normalized <tspan font-style="italic">T</tspan><tspan font-size="10" dy="3.6">max</tspan><tspan dy="-3.6"> (%)</tspan></text>
<text x="298.00" y="365.50" font-size="14.5">Concentration (mg/mL)</text>
<polyline points="300.50,211.00 302.81,214.22 305.11,217.24 307.42,220.06 309.73,222.70 312.03,225.17 314.34,227.48 316.65,229.65 318.95,231.67 321.26,233.56 323.57,235.33 325.87,236.98 328.18,238.53 330.49,239.98 332.79,241.34 335.10,242.61 337.41,243.79 339.71,244.90 342.02,245.94 344.33,246.91 346.63,247.82 348.94,248.67 351.25,249.47 353.55,250.21 355.86,250.91 358.17,251.56 360.47,252.17 362.78,252.74 365.09,253.27 367.39,253.77 369.70,254.23 372.01,254.67 374.31,255.08 376.62,255.46 378.93,255.82 381.23,256.15 383.54,256.46 385.85,256.76 388.15,257.03 390.46,257.29 392.77,257.53 395.07,257.75 397.38,257.96 399.69,258.16 401.99,258.34 404.30,258.51 406.61,258.67 408.91,258.82 411.22,258.96 413.53,259.09 415.83,259.22 418.14,259.33 420.45,259.44 422.75,259.54 425.06,259.63 427.37,259.72 429.67,259.80 431.98,259.88 434.29,259.95 436.59,260.02 438.90,260.08" fill="none" stroke="#b2ea6c" stroke-width="1.4" stroke-linejoin="round"/>
<polyline points="300.50,210.00 302.81,216.13 305.11,221.62 307.42,226.55 309.73,230.96 312.03,234.92 314.34,238.47 316.65,241.65 318.95,244.50 321.26,247.06 323.57,249.35 325.87,251.41 328.18,253.25 330.49,254.90 332.79,256.38 335.10,257.71 337.41,258.90 339.71,259.97 342.02,260.92 344.33,261.78 346.63,262.55 348.94,263.24 351.25,263.85 353.55,264.41 355.86,264.90 358.17,265.35 360.47,265.75 362.78,266.10 365.09,266.42 367.39,266.71 369.70,266.97 372.01,267.20 374.31,267.41 376.62,267.59 378.93,267.76 381.23,267.91 383.54,268.04 385.85,268.16 388.15,268.27 390.46,268.37 392.77,268.45 395.07,268.53 397.38,268.60 399.69,268.66 401.99,268.72 404.30,268.77 406.61,268.81 408.91,268.85 411.22,268.89 413.53,268.92 415.83,268.95 418.14,268.98 420.45,269.00 422.75,269.02 425.06,269.04 427.37,269.05 429.67,269.07 431.98,269.08 434.29,269.10 436.59,269.11 438.90,269.12" fill="none" stroke="#48b0ff" stroke-width="1.2" stroke-dasharray="3.6 1.3 0.8 1.3" stroke-linejoin="round"/>
<circle cx="300.50" cy="206.20" r="3.1" fill="#b2ea6c"/>
<circle cx="303.96" cy="222.40" r="3.1" fill="#b2ea6c"/>
<circle cx="317.80" cy="230.50" r="3.1" fill="#b2ea6c"/>
<circle cx="335.10" cy="244.10" r="3.1" fill="#b2ea6c"/>
<circle cx="369.70" cy="250.50" r="3.1" fill="#b2ea6c"/>
<circle cx="404.30" cy="262.40" r="3.1" fill="#b2ea6c"/>
<circle cx="438.90" cy="259.20" r="3.1" fill="#b2ea6c"/>
<circle cx="300.50" cy="205.80" r="2.7" fill="#fff" stroke="#48b0ff" stroke-width="0.8"/>
<path d="M300.50,202.70 A3.1,3.1 0 0 0 300.50,208.90 Z" fill="#48b0ff"/>
<circle cx="303.96" cy="217.70" r="2.7" fill="#fff" stroke="#48b0ff" stroke-width="0.8"/>
<path d="M303.96,214.60 A3.1,3.1 0 0 0 303.96,220.80 Z" fill="#48b0ff"/>
<circle cx="317.80" cy="243.80" r="2.7" fill="#fff" stroke="#48b0ff" stroke-width="0.8"/>
<path d="M317.80,240.70 A3.1,3.1 0 0 0 317.80,246.90 Z" fill="#48b0ff"/>
<circle cx="335.10" cy="256.40" r="2.7" fill="#fff" stroke="#48b0ff" stroke-width="0.8"/>
<path d="M335.10,253.30 A3.1,3.1 0 0 0 335.10,259.50 Z" fill="#48b0ff"/>
<circle cx="369.70" cy="272.60" r="2.7" fill="#fff" stroke="#48b0ff" stroke-width="0.8"/>
<path d="M369.70,269.50 A3.1,3.1 0 0 0 369.70,275.70 Z" fill="#48b0ff"/>
<circle cx="404.30" cy="268.50" r="2.7" fill="#fff" stroke="#48b0ff" stroke-width="0.8"/>
<path d="M404.30,265.40 A3.1,3.1 0 0 0 404.30,271.60 Z" fill="#48b0ff"/>
<circle cx="438.90" cy="266.30" r="2.7" fill="#fff" stroke="#48b0ff" stroke-width="0.8"/>
<path d="M438.90,263.20 A3.1,3.1 0 0 0 438.90,269.40 Z" fill="#48b0ff"/>
<text x="378.40" y="236.20" font-size="10.3" fill="#b2ea6c">R<tspan font-size="7" dy="-4">2</tspan><tspan dy="4">=0.96</tspan></text>
<circle cx="291.20" cy="315.70" r="3.4" fill="#b2ea6c"/>
<text x="297.40" y="319.40" font-size="10.3">EIT1 w/ AuNPs</text>
<circle cx="291.20" cy="326.10" r="2.9" fill="#fff" stroke="#48b0ff" stroke-width="0.8"/>
<path d="M291.20,322.80 A3.3,3.3 0 0 0 291.20,329.40 Z" fill="#48b0ff"/>
<text x="297.40" y="330.20" font-size="10.3">EIT1 w/o AuNPs</text>
<text x="408.60" y="316.40" font-size="11.6" font-weight="bold">Glucose</text>
<line x1="509.60" y1="200.90" x2="684.00" y2="200.90" stroke="#6a6a6a" stroke-width="1.3"/>
<line x1="509.60" y1="339.10" x2="684.00" y2="339.10" stroke="#6a6a6a" stroke-width="1.3"/>
<line x1="510.20" y1="200.90" x2="510.20" y2="339.10" stroke="#a8a8a8" stroke-width="1.9"/>
<line x1="683.40" y1="200.90" x2="683.40" y2="339.10" stroke="#a8a8a8" stroke-width="1.9"/>
<line x1="527.52" y1="339.10" x2="527.52" y2="335.90" stroke="#555" stroke-width="1"/>
<line x1="527.52" y1="200.90" x2="527.52" y2="204.10" stroke="#555" stroke-width="1"/>
<line x1="544.84" y1="339.10" x2="544.84" y2="337.30" stroke="#555" stroke-width="1"/>
<line x1="544.84" y1="200.90" x2="544.84" y2="202.70" stroke="#555" stroke-width="1"/>
<line x1="562.16" y1="339.10" x2="562.16" y2="335.90" stroke="#555" stroke-width="1"/>
<line x1="562.16" y1="200.90" x2="562.16" y2="204.10" stroke="#555" stroke-width="1"/>
<line x1="579.48" y1="339.10" x2="579.48" y2="337.30" stroke="#555" stroke-width="1"/>
<line x1="579.48" y1="200.90" x2="579.48" y2="202.70" stroke="#555" stroke-width="1"/>
<line x1="596.80" y1="339.10" x2="596.80" y2="335.90" stroke="#555" stroke-width="1"/>
<line x1="596.80" y1="200.90" x2="596.80" y2="204.10" stroke="#555" stroke-width="1"/>
<line x1="614.12" y1="339.10" x2="614.12" y2="337.30" stroke="#555" stroke-width="1"/>
<line x1="614.12" y1="200.90" x2="614.12" y2="202.70" stroke="#555" stroke-width="1"/>
<line x1="631.44" y1="339.10" x2="631.44" y2="335.90" stroke="#555" stroke-width="1"/>
<line x1="631.44" y1="200.90" x2="631.44" y2="204.10" stroke="#555" stroke-width="1"/>
<line x1="648.76" y1="339.10" x2="648.76" y2="337.30" stroke="#555" stroke-width="1"/>
<line x1="648.76" y1="200.90" x2="648.76" y2="202.70" stroke="#555" stroke-width="1"/>
<line x1="666.08" y1="339.10" x2="666.08" y2="335.90" stroke="#555" stroke-width="1"/>
<line x1="666.08" y1="200.90" x2="666.08" y2="204.10" stroke="#555" stroke-width="1"/>
<line x1="510.20" y1="316.07" x2="512.00" y2="316.07" stroke="#555" stroke-width="1"/>
<line x1="683.40" y1="316.07" x2="681.60" y2="316.07" stroke="#555" stroke-width="1"/>
<line x1="510.20" y1="293.03" x2="513.40" y2="293.03" stroke="#555" stroke-width="1"/>
<line x1="683.40" y1="293.03" x2="680.20" y2="293.03" stroke="#555" stroke-width="1"/>
<line x1="510.20" y1="270.00" x2="512.00" y2="270.00" stroke="#555" stroke-width="1"/>
<line x1="683.40" y1="270.00" x2="681.60" y2="270.00" stroke="#555" stroke-width="1"/>
<line x1="510.20" y1="246.97" x2="513.40" y2="246.97" stroke="#555" stroke-width="1"/>
<line x1="683.40" y1="246.97" x2="680.20" y2="246.97" stroke="#555" stroke-width="1"/>
<line x1="510.20" y1="223.93" x2="512.00" y2="223.93" stroke="#555" stroke-width="1"/>
<line x1="683.40" y1="223.93" x2="681.60" y2="223.93" stroke="#555" stroke-width="1"/>
<text x="507.50" y="209.10" text-anchor="end" font-size="13.3">100</text>
<text x="507.50" y="251.20" text-anchor="end" font-size="13.3">80</text>
<text x="507.50" y="297.70" text-anchor="end" font-size="13.3">60</text>
<text x="507.50" y="342.60" text-anchor="end" font-size="13.3">40</text>
<text x="527.52" y="351.50" text-anchor="middle" font-size="13.3">0</text>
<text x="562.16" y="351.50" text-anchor="middle" font-size="13.3">10</text>
<text x="596.80" y="351.50" text-anchor="middle" font-size="13.3">20</text>
<text x="631.44" y="351.50" text-anchor="middle" font-size="13.3">30</text>
<text x="666.08" y="351.50" text-anchor="middle" font-size="13.3">40</text>
<text x="467.50" y="207.80" font-size="13.5" font-weight="bold">f</text>
<text transform="translate(484.60,336.00) rotate(-90)" x="0" y="0" font-size="14.5">Normalized <tspan font-style="italic">T</tspan><tspan font-size="10" dy="3.6">max</tspan><tspan dy="-3.6"> (%)</tspan></text>
<text x="525.20" y="365.50" font-size="14.5">Concentration (mg/mL)</text>
<polyline points="527.52,241.10 529.83,244.63 532.14,247.85 534.45,250.78 536.76,253.45 539.07,255.89 541.38,258.11 543.69,260.13 545.99,261.98 548.30,263.66 550.61,265.19 552.92,266.59 555.23,267.87 557.54,269.03 559.85,270.09 562.16,271.05 564.47,271.93 566.78,272.73 569.09,273.46 571.40,274.13 573.71,274.74 576.02,275.29 578.33,275.80 580.63,276.26 582.94,276.68 585.25,277.06 587.56,277.41 589.87,277.72 592.18,278.01 594.49,278.28 596.80,278.52 599.11,278.74 601.42,278.94 603.73,279.12 606.04,279.29 608.35,279.44 610.66,279.58 612.97,279.70 615.27,279.82 617.58,279.92 619.89,280.02 622.20,280.10 624.51,280.18 626.82,280.26 629.13,280.32 631.44,280.38 633.75,280.44 636.06,280.49 638.37,280.53 640.68,280.57 642.99,280.61 645.30,280.65 647.61,280.68 649.91,280.71 652.22,280.73 654.53,280.75 656.84,280.78 659.15,280.80 661.46,280.81 663.77,280.83 666.08,280.85" fill="none" stroke="#b2ea6c" stroke-width="1.4" stroke-linejoin="round"/>
<polyline points="527.52,237.00 529.83,244.90 532.14,251.63 534.45,257.38 536.76,262.29 539.07,266.47 541.38,270.04 543.69,273.09 545.99,275.69 548.30,277.91 550.61,279.80 552.92,281.41 555.23,282.79 557.54,283.97 559.85,284.97 562.16,285.83 564.47,286.56 566.78,287.18 569.09,287.71 571.40,288.16 573.71,288.55 576.02,288.88 578.33,289.16 580.63,289.40 582.94,289.61 585.25,289.78 587.56,289.93 589.87,290.06 592.18,290.17 594.49,290.26 596.80,290.34 599.11,290.41 601.42,290.47 603.73,290.51 606.04,290.56 608.35,290.59 610.66,290.62 612.97,290.65 615.27,290.67 617.58,290.69 619.89,290.71 622.20,290.72 624.51,290.73 626.82,290.74 629.13,290.75 631.44,290.76 633.75,290.76 636.06,290.77 638.37,290.77 640.68,290.78 642.99,290.78 645.30,290.78 647.61,290.79 649.91,290.79 652.22,290.79 654.53,290.79 656.84,290.79 659.15,290.79 661.46,290.79 663.77,290.80 666.08,290.80" fill="none" stroke="#48b0ff" stroke-width="1.2" stroke-dasharray="3.6 1.3 0.8 1.3" stroke-linejoin="round"/>
<circle cx="527.52" cy="237.00" r="3.1" fill="#b2ea6c"/>
<circle cx="530.98" cy="253.50" r="3.1" fill="#b2ea6c"/>
<circle cx="544.84" cy="260.50" r="3.1" fill="#b2ea6c"/>
<circle cx="562.16" cy="270.40" r="3.1" fill="#b2ea6c"/>
<circle cx="596.80" cy="276.90" r="3.1" fill="#b2ea6c"/>
<circle cx="631.44" cy="282.50" r="3.1" fill="#b2ea6c"/>
<circle cx="666.08" cy="280.00" r="3.1" fill="#b2ea6c"/>
<circle cx="527.52" cy="236.70" r="2.7" fill="#fff" stroke="#48b0ff" stroke-width="0.8"/>
<path d="M527.52,233.60 A3.1,3.1 0 0 0 527.52,239.80 Z" fill="#48b0ff"/>
<circle cx="530.98" cy="252.40" r="2.7" fill="#fff" stroke="#48b0ff" stroke-width="0.8"/>
<path d="M530.98,249.30 A3.1,3.1 0 0 0 530.98,255.50 Z" fill="#48b0ff"/>
<circle cx="544.84" cy="272.60" r="2.7" fill="#fff" stroke="#48b0ff" stroke-width="0.8"/>
<path d="M544.84,269.50 A3.1,3.1 0 0 0 544.84,275.70 Z" fill="#48b0ff"/>
<circle cx="562.16" cy="281.70" r="2.7" fill="#fff" stroke="#48b0ff" stroke-width="0.8"/>
<path d="M562.16,278.60 A3.1,3.1 0 0 0 562.16,284.80 Z" fill="#48b0ff"/>
<circle cx="596.80" cy="292.30" r="2.7" fill="#fff" stroke="#48b0ff" stroke-width="0.8"/>
<path d="M596.80,289.20 A3.1,3.1 0 0 0 596.80,295.40 Z" fill="#48b0ff"/>
<circle cx="631.44" cy="290.60" r="2.7" fill="#fff" stroke="#48b0ff" stroke-width="0.8"/>
<path d="M631.44,287.50 A3.1,3.1 0 0 0 631.44,293.70 Z" fill="#48b0ff"/>
<circle cx="666.08" cy="289.50" r="2.7" fill="#fff" stroke="#48b0ff" stroke-width="0.8"/>
<path d="M666.08,286.40 A3.1,3.1 0 0 0 666.08,292.60 Z" fill="#48b0ff"/>
<text x="605.90" y="257.70" font-size="10.3" fill="#b2ea6c">R<tspan font-size="7" dy="-4">2</tspan><tspan dy="4">=0.95</tspan></text>
<circle cx="518.40" cy="315.30" r="3.4" fill="#b2ea6c"/>
<text x="524.60" y="319.00" font-size="10.3">EIT2 w/ AuNPs</text>
<circle cx="518.40" cy="325.60" r="2.9" fill="#fff" stroke="#48b0ff" stroke-width="0.8"/>
<path d="M518.40,322.30 A3.3,3.3 0 0 0 518.40,328.90 Z" fill="#48b0ff"/>
<text x="524.60" y="329.20" font-size="10.3">EIT2 w/o AuNPs</text>
<text x="638.40" y="318.80" font-size="11.6" font-weight="bold">Glucose</text>
</svg>
</body></html>
